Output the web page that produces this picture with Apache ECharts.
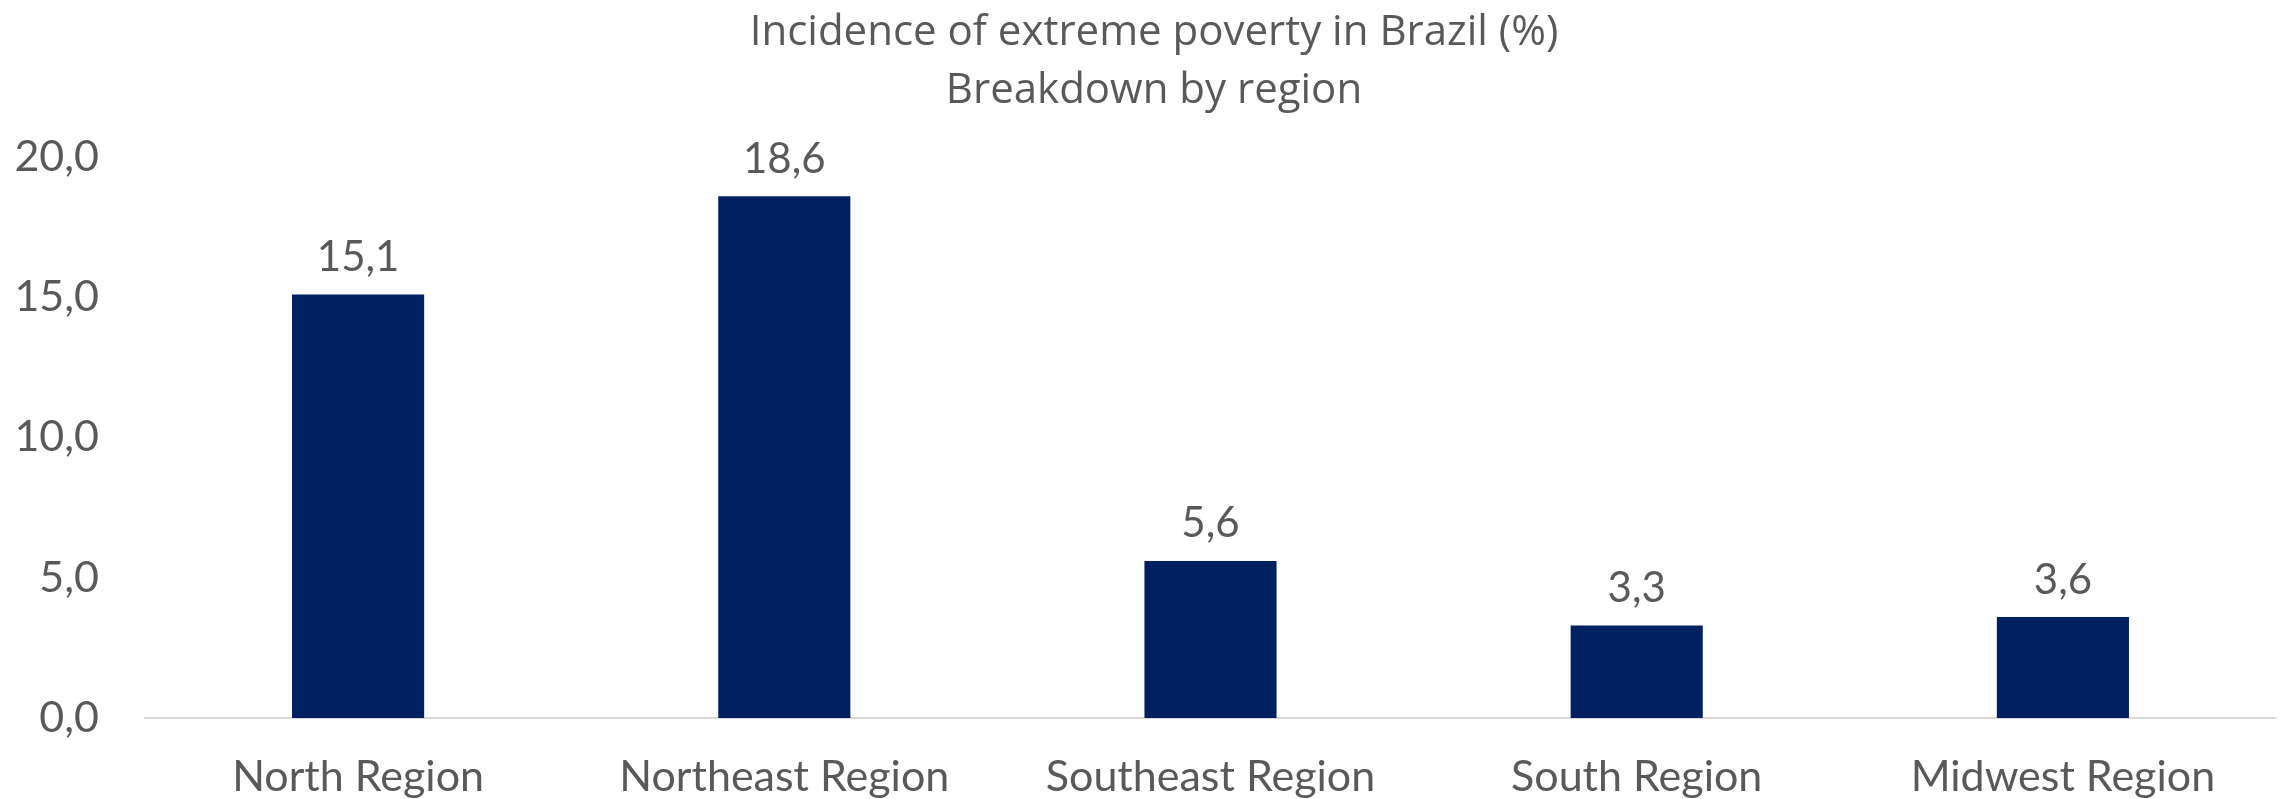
<!DOCTYPE html>
<html>
<head>
<meta charset="utf-8">
<script src="https://cdn.jsdelivr.net/npm/echarts@6/dist/echarts.min.js"></script>
<style>
html,body{margin:0;padding:0;background:#fff;}
#chart{width:2285px;height:799px;}
</style>
</head>
<body>
<div id="chart"></div>
<script>
const titleLines = ["Incidence of extreme poverty in Brazil (%)", "Breakdown by region"];
const categories = ["North Region", "Northeast Region", "Southeast Region", "South Region", "Midwest Region"];
const values = [15.1, 18.6, 5.6, 3.3, 3.6];
const yMin = 0, yMax = 20, yInterval = 5;

const fmt = v => Number(v).toFixed(1).replace('.', ',');

const chart = echarts.init(document.getElementById('chart'));
chart.setOption({
  animation: false,
  backgroundColor: '#ffffff',
  title: {
    text: titleLines.join('\n'),
    left: 1149,
    textAlign: 'center',
    top: -1,
    textStyle: {
      fontFamily: 'Open Sans',
      fontSize: 42,
      fontWeight: 'normal',
      color: '#595959',
      lineHeight: 58
    }
  },
  grid: { left: 145, right: 9, top: 157, bottom: 80, containLabel: false },
  xAxis: {
    type: 'category',
    data: categories,
    axisLine: { lineStyle: { color: '#d9d9d9', width: 2 } },
    axisTick: { show: false },
    axisLabel: {
      interval: 0,
      hideOverlap: false,
      fontFamily: 'Lato',
      fontSize: 43,
      color: '#595959',
      margin: 38,
      lineHeight: 43
    }
  },
  yAxis: {
    type: 'value',
    min: yMin, max: yMax, interval: yInterval,
    splitLine: { show: false },
    axisLine: { show: false },
    axisTick: { show: false },
    axisLabel: {
      fontFamily: 'Lato',
      fontSize: 43,
      color: '#595959',
      margin: 46,
      formatter: v => fmt(v)
    }
  },
  series: [{
    type: 'bar',
    data: values,
    barWidth: '31%',
    itemStyle: { color: '#002060' },
    label: {
      show: true,
      position: 'top',
      distance: 16,
      fontFamily: 'Lato',
      fontSize: 42,
      lineHeight: 42,
      color: '#595959',
      formatter: p => fmt(p.value)
    }
  }]
});
</script>
</body>
</html>
